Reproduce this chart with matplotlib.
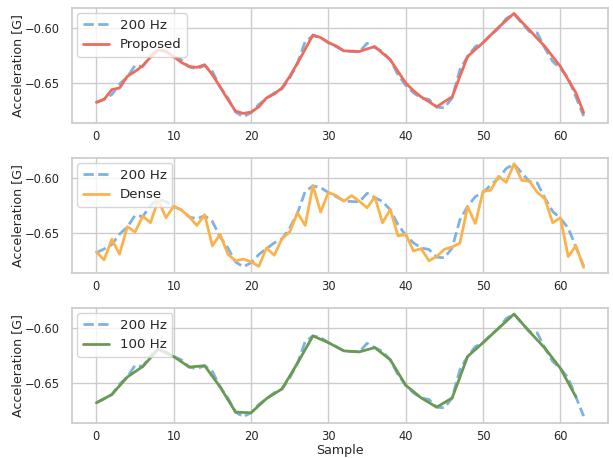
import numpy as np
import matplotlib
matplotlib.use("Agg")
import matplotlib.pyplot as plt
import seaborn as sns

samples = list(range(64))

hz200 = [-0.668, -0.6645, -0.6605, -0.651, -0.6446, -0.634, -0.635, -0.625,
         -0.6193, -0.6214, -0.626, -0.629, -0.6355, -0.637, -0.6343, -0.6395,
         -0.6536, -0.6636, -0.6765, -0.6807, -0.6771, -0.6696, -0.6642, -0.659,
         -0.6554, -0.6455, -0.632, -0.6123, -0.6072, -0.6087, -0.6133, -0.6169,
         -0.6208, -0.6214, -0.6217, -0.6139, -0.6178, -0.6214, -0.6289, -0.6425,
         -0.6521, -0.659, -0.6636, -0.665, -0.672, -0.6726, -0.6636, -0.638,
         -0.6259, -0.6169, -0.6133, -0.6063, -0.6003, -0.5913, -0.5873, -0.5955,
         -0.6033, -0.6045, -0.6184, -0.6304, -0.6367, -0.6455, -0.6627, -0.6801]

proposed = [-0.6675, -0.665, -0.656, -0.6545, -0.644, -0.6395, -0.6343, -0.6265,
            -0.620, -0.6214, -0.626, -0.6313, -0.635, -0.6358, -0.6334, -0.6425,
            -0.6536, -0.665, -0.6756, -0.6777, -0.6765, -0.6717, -0.6636, -0.660,
            -0.6545, -0.644, -0.632, -0.6193, -0.6063, -0.6087, -0.6133, -0.6163,
            -0.6208, -0.621, -0.6214, -0.619, -0.6169, -0.6229, -0.6289, -0.6395,
            -0.650, -0.657, -0.6627, -0.667, -0.6717, -0.667, -0.6627, -0.644,
            -0.6259, -0.6196, -0.6133, -0.6063, -0.5994, -0.593, -0.5867, -0.5945,
            -0.6018, -0.6094, -0.6169, -0.626, -0.635, -0.647, -0.659, -0.677]

dense = [-0.6672, -0.6744, -0.6557, -0.6693, -0.6443, -0.6491, -0.6346, -0.6407,
         -0.6196, -0.6361, -0.6256, -0.6292, -0.6352, -0.6431, -0.6334, -0.6617,
         -0.6512, -0.6693, -0.6753, -0.6738, -0.6762, -0.6804, -0.6636, -0.6702,
         -0.6551, -0.6491, -0.6316, -0.6431, -0.6069, -0.631, -0.613, -0.616,
         -0.6211, -0.616, -0.6211, -0.6271, -0.6172, -0.6407, -0.6286, -0.6527,
         -0.6512, -0.6663, -0.6642, -0.6753, -0.6714, -0.6648, -0.6627, -0.6593,
         -0.6262, -0.6413, -0.612, -0.6111, -0.5985, -0.6039, -0.587, -0.6021,
         -0.603, -0.613, -0.619, -0.6407, -0.6361, -0.6714, -0.6617, -0.6813]

samples100 = list(range(0, 64, 2))
hz100 = [-0.668, -0.6605, -0.6446, -0.635, -0.6193, -0.626, -0.6355, -0.6343,
         -0.6536, -0.6765, -0.6771, -0.6642, -0.6554, -0.632, -0.6072, -0.6133,
         -0.6208, -0.6217, -0.6178, -0.6289, -0.6521, -0.6636, -0.672, -0.6636,
         -0.6259, -0.6133, -0.6003, -0.5873, -0.6033, -0.6184, -0.6367, -0.6627]

yticks = [-0.60, -0.65]

sns.set_theme(style="whitegrid")
plt.rcParams['font.family'] = ['DejaVu Sans']

c_blue = '#7fb2e3'
c_red = '#ef6b5b'
c_orange = '#fcb24b'
c_green = '#6a9a52'

fig = plt.figure(figsize=(6.13, 4.58), dpi=100)
left, width, h = 72 / 613, 536 / 613, 115 / 458
tops = [8, 158, 308]
axes = [fig.add_axes([left, 1 - (t + 115) / 458, width, h]) for t in tops]

others = [(samples, proposed, 'Proposed', c_red),
          (samples, dense, 'Dense', c_orange),
          (samples100, hz100, '100 Hz', c_green)]

for ax, (xs, ys, lab, col) in zip(axes, others):
    ax.plot(samples, hz200, '--', color=c_blue, lw=2, label='200 Hz')
    ax.plot(xs, ys, '-', color=col, lw=2, label=lab)
    ax.set_ylim(-0.6864, -0.5818)
    ax.set_yticks(yticks)
    ax.set_yticklabels(['\u22120.60', '\u22120.65'])
    ax.set_xlim(-3.15, 66.15)
    ax.set_xticks([0, 10, 20, 30, 40, 50, 60])
    ax.tick_params(axis='x', labelsize=8.3, colors='.15', length=0, pad=5)
    ax.tick_params(axis='y', labelsize=8.3, colors='.15', pad=3)
    ax.set_ylabel('Acceleration [G]', fontsize=9.1, color='.15', labelpad=0)
    ax.grid(True, color='.8', lw=1)
    for s in ax.spines.values():
        s.set_color('.8')
        s.set_linewidth(1.25)
    ax.legend(loc='upper left', fontsize=9.6, frameon=True, borderaxespad=0.4)

axes[-1].set_xlabel('Sample', fontsize=9.1, color='.15', labelpad=0.5)

fig.savefig('out.png', dpi=100)
